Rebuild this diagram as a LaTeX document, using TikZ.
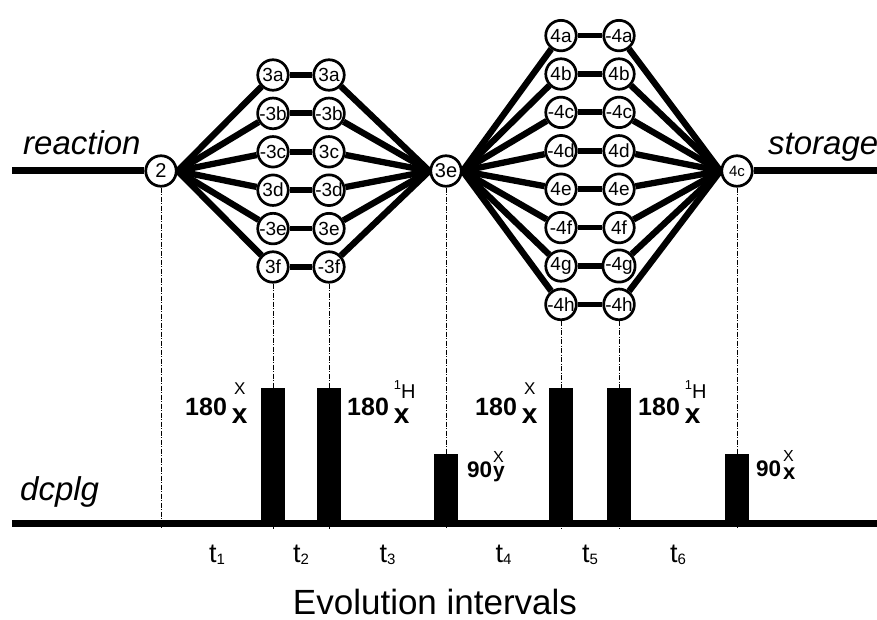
\documentclass[tikz,border=0pt]{standalone}
\usepackage{fontspec}
\setmainfont{Liberation Sans}
\usetikzlibrary{calc}
\pgfdeclarelayer{bg}
\pgfsetlayers{bg,main}
\newcommand{\fsz}[1]{\fontsize{#1}{#1}\selectfont}
\begin{document}
\begin{tikzpicture}[x=1pt,y=-1pt,
  st/.style={circle,draw,line width=2.7pt,minimum size=30.5pt,inner sep=0pt,fill=white,font=\fsz{19}},
  fan/.style={line width=6.3pt},
  pair/.style={line width=5.8pt},
  mainline/.style={line width=7pt},
  guide/.style={line width=0.8pt,dash pattern=on 5pt off 1.5pt on 1pt off 1.5pt},
  pulse/.style={fill=black,draw=none,inner sep=0pt,minimum width=24pt,anchor=south},
  lab/.style={inner sep=0pt,anchor=base west},
  bigtxt/.style={inner sep=0pt,font=\fsz{33}\itshape,anchor=base west},
  tlab/.style={inner sep=0pt,anchor=base,font=\fsz{27}}
]
\useasboundingbox (0,0) rectangle (877,620);

% state nodes
\node[st,font=\fsz{20}] (n2) at (161,171) {2};
\node[st,font=\fsz{20}] (n3e) at (446,171) {3e};
\node[st,font=\fsz{15}] (n4c) at (737,171) {4c};
\foreach \i/\l/\r [count=\k] in {a/3a/3a,b/-3b/-3b,c/-3c/3c,d/3d/-3d,e/-3e/3e,f/3f/-3f}{
  \node[st] (L3\i) at (273,{171+(\k-3.5)*38.4}) {\l};
  \node[st] (R3\i) at (329,{171+(\k-3.5)*38.4}) {\r};
}
\foreach \i/\l/\r [count=\k] in {a/4a/-4a,b/4b/4b,c/-4c/-4c,d/-4d/4d,e/4e/4e,f/-4f/4f,g/4g/-4g,h/-4h/-4h}{
  \node[st] (L4\i) at (561,{170+(\k-4.5)*38.4}) {\l};
  \node[st] (R4\i) at (619,{170+(\k-4.5)*38.4}) {\r};
}

% free ends
\coordinate (rl) at (12,171);
\coordinate (sr) at (877,171);
\coordinate (bl) at (12,523);
\coordinate (br) at (877,523);
\coordinate (k1) at (161,529);
\coordinate (k2) at (273,529);
\coordinate (k3) at (329,529);
\coordinate (k4) at (446,529);
\coordinate (k5) at (561,529);
\coordinate (k6) at (619,529);
\coordinate (k7) at (737,529);

\begin{pgfonlayer}{bg}
  \draw[mainline] (rl) -- (n2);
  \draw[mainline] (n4c) -- (sr);
  \foreach \i in {a,...,f}{
    \draw[fan] (n2.east) -- (L3\i);
    \draw[pair] (L3\i) -- (R3\i);
    \draw[fan] (R3\i) -- (n3e.west);
  }
  \foreach \i in {a,...,h}{
    \draw[fan] (n3e.east) -- (L4\i);
    \draw[pair] (L4\i) -- (R4\i);
    \draw[fan] (R4\i) -- (n4c.west);
  }
  \draw[guide] (n2.south) -- (k1);
  \draw[guide] (L3f.south) -- (k2);
  \draw[guide] (R3f.south) -- (k3);
  \draw[guide] (n3e.south) -- (k4);
  \draw[guide] (L4h.south) -- (k5);
  \draw[guide] (R4h.south) -- (k6);
  \draw[guide] (n4c.south) -- (k7);
\end{pgfonlayer}

% baseline and pulses
\draw[mainline] (bl) -- (br);
\node[pulse,minimum height=135pt] (p1) at (k2 |- bl) {};
\node[pulse,minimum height=135pt] (p2) at (k3 |- bl) {};
\node[pulse,minimum height=69pt] (p3) at (k4 |- bl) {};
\node[pulse,minimum height=135pt] (p4) at (k5 |- bl) {};
\node[pulse,minimum height=135pt] (p5) at (k6 |- bl) {};
\node[pulse,minimum height=69pt] (p6) at (k7 |- bl) {};

% line labels
\node[bigtxt] (lr) at (23,155) {reaction};
\node[bigtxt] (ls) at (768,155) {storage};
\node[bigtxt] (ld) at (20,500) {dcplg};

% pulse labels
\node[lab] (l1) at (185,415) {\fsz{25}\bfseries 180\kern5pt\rlap{\hbox to 15.6pt{\hss\raisebox{21pt}{\mdseries\fsz{17}X}\hss}}\raisebox{-8pt}{\fsz{28}x}};
\node[lab] (l2) at (347,415) {\fsz{25}\bfseries 180\kern5pt\rlap{\raisebox{17pt}{\mdseries\fsz{13}\raisebox{9pt}{1}\fsz{20}H}}\raisebox{-8pt}{\fsz{28}x}};
\node[lab] (l3) at (467,477) {\fsz{22.5}\bfseries 90\kern1pt\rlap{\raisebox{15pt}{\mdseries\fsz{16}X}}{\fsz{21}y}};
\node[lab] (l4) at (475,415) {\fsz{25}\bfseries 180\kern5pt\rlap{\hbox to 15.6pt{\hss\raisebox{21pt}{\mdseries\fsz{17}X}\hss}}\raisebox{-8pt}{\fsz{28}x}};
\node[lab] (l5) at (638,415) {\fsz{25}\bfseries 180\kern5pt\rlap{\raisebox{17pt}{\mdseries\fsz{13}\raisebox{9pt}{1}\fsz{20}H}}\raisebox{-8pt}{\fsz{28}x}};
\node[lab] (l6) at (756,476) {\fsz{22.5}\bfseries 90\kern2pt\rlap{\raisebox{15pt}{\mdseries\fsz{16}X}}\raisebox{-3pt}{\fsz{22}x}};

% interval labels
\node[tlab] (t1) at ($(k1)!0.5!(k2)+(0,33)$) {t\raisebox{-2pt}{\fsz{15}1}};
\node[tlab] (t2) at ($(k2)!0.5!(k3)+(0,33)$) {t\raisebox{-2pt}{\fsz{15}2}};
\node[tlab] (t3) at ($(k3)!0.5!(k4)+(0,33)$) {t\raisebox{-2pt}{\fsz{15}3}};
\node[tlab] (t4) at ($(k4)!0.5!(k5)+(0,33)$) {t\raisebox{-2pt}{\fsz{15}4}};
\node[tlab] (t5) at ($(k5)!0.5!(k6)+(0,33)$) {t\raisebox{-2pt}{\fsz{15}5}};
\node[tlab] (t6) at ($(k6)!0.5!(k7)+(0,33)$) {t\raisebox{-2pt}{\fsz{15}6}};
\node[inner sep=0pt,anchor=base,font=\fsz{35}] (ev) at (435,614) {Evolution intervals};
\end{tikzpicture}
\end{document}
